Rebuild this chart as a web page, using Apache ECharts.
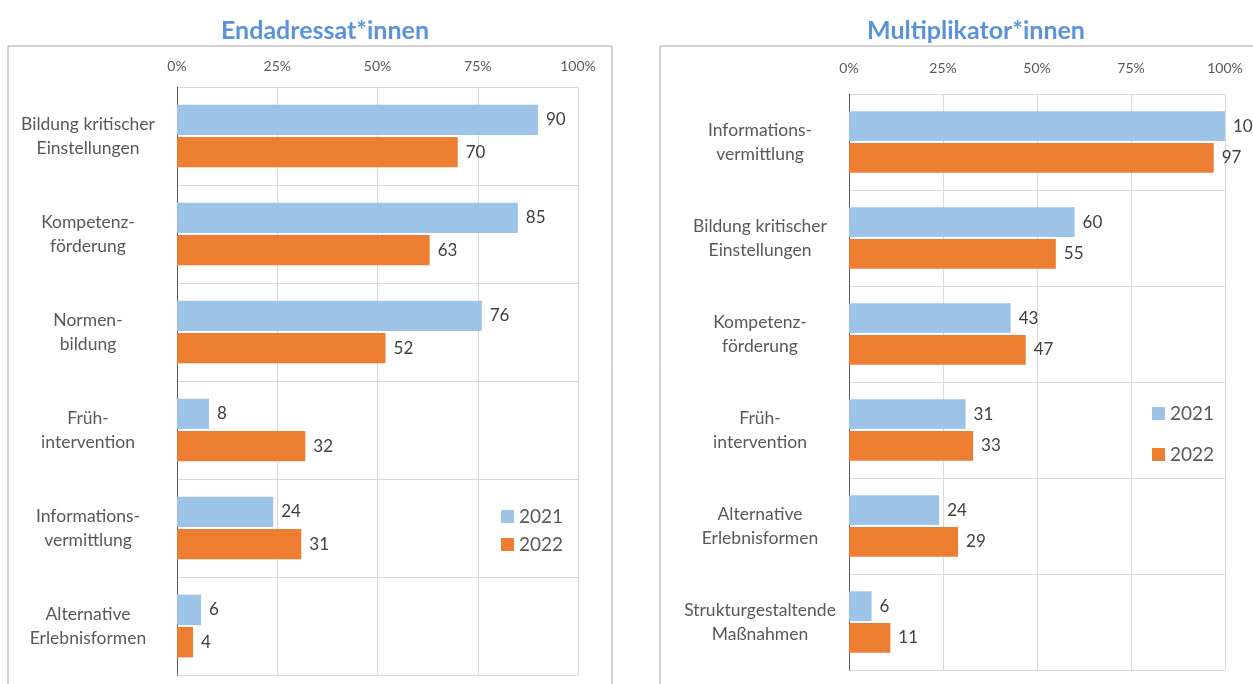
<!DOCTYPE html>
<html>
<head>
<meta charset="utf-8">
<script src="https://cdn.jsdelivr.net/npm/echarts@6/dist/echarts.min.js"></script>
<style>
  html, body { margin: 0; padding: 0; background: #fff; }
  #chart_main { width: 1253px; height: 684px; }
</style>
</head>
<body>
<div id="chart_main"></div>
<script>
// Endadressat*innen (links)
const leftCategories = ['Bildung kritischer\nEinstellungen', 'Kompetenz-\nförderung', 'Normen-\nbildung',
  'Früh-\nintervention', 'Informations-\nvermittlung', 'Alternative\nErlebnisformen'];
const left2021 = [90, 85, 76, 8, 24, 6];
const left2022 = [70, 63, 52, 32, 31, 4];

// Multiplikator*innen (rechts)
const rightCategories = ['Informations-\nvermittlung', 'Bildung kritischer\nEinstellungen', 'Kompetenz-\nförderung',
  'Früh-\nintervention', 'Alternative\nErlebnisformen', 'Strukturgestaltende\nMaßnahmen'];
const right2021 = [100, 60, 43, 31, 24, 6];
const right2022 = [97, 55, 47, 33, 29, 11];

const years = ['2021', '2022'];
const tickLabels = ['0%', '25%', '50%', '75%', '100%'];

const font = 'Lato, "Open Sans", sans-serif';
const colors = ['#9dc3e6', '#ed7d31'];
const gridColor = '#d9d9d9';

let myChart = echarts.init(document.getElementById('chart_main'));

function valueAxis(gridIndex, margin) {
  return {
    type: 'value',
    gridIndex: gridIndex,
    position: 'top',
    min: 0,
    max: 100,
    interval: 25,
    axisLine: { show: false },
    axisTick: { show: false },
    axisLabel: {
      color: '#595959',
      fontSize: 14,
      fontFamily: font,
      margin: margin,
      formatter: (v) => tickLabels[v / 25]
    },
    splitLine: { lineStyle: { color: gridColor, width: 1 } }
  };
}

function catAxis(gridIndex, cats) {
  return {
    type: 'category',
    gridIndex: gridIndex,
    inverse: true,
    data: cats,
    axisLine: { lineStyle: { color: '#595959', width: 1 } },
    axisTick: { show: false },
    axisLabel: {
      color: '#595959',
      fontSize: 17.5,
      fontFamily: font,
      align: 'center',
      lineHeight: 24,
      margin: 89
    },
    splitLine: { show: true, lineStyle: { color: gridColor, width: 1 } }
  };
}

let option = {
  color: colors,
  title: [
    {
      text: 'Endadressat*innen',
      left: 320,
      top: 13,
      textAlign: 'center',
      textStyle: { color: '#5b93d8', fontSize: 25, fontWeight: 'bold', fontFamily: font }
    },
    {
      text: 'Multiplikator*innen',
      left: 971,
      top: 13,
      textAlign: 'center',
      textStyle: { color: '#5b93d8', fontSize: 25, fontWeight: 'bold', fontFamily: font }
    }
  ],
  graphic: [
    {
      type: 'rect',
      shape: { x: 8, y: 46, width: 604, height: 700 },
      style: { fill: 'none', stroke: '#a6a6a6', lineWidth: 1 }
    },
    {
      type: 'rect',
      shape: { x: 660, y: 46, width: 700, height: 700 },
      style: { fill: 'none', stroke: '#a6a6a6', lineWidth: 1 }
    }
  ],
  legend: [
    {
      orient: 'vertical',
      left: 496,
      top: 502,
      itemWidth: 13,
      itemHeight: 13,
      itemGap: 9,
      icon: 'rect',
      textStyle: { color: '#595959', fontSize: 19, fontFamily: font },
      data: years
    },
    {
      orient: 'vertical',
      left: 1147,
      top: 399,
      itemWidth: 13,
      itemHeight: 13,
      itemGap: 22,
      icon: 'rect',
      textStyle: { color: '#595959', fontSize: 19, fontFamily: font },
      data: years
    }
  ],
  grid: [
    { left: 177, top: 87, width: 401, height: 588 },
    { left: 849, top: 94, width: 376, height: 576 }
  ],
  xAxis: [valueAxis(0, 14), valueAxis(1, 19)],
  yAxis: [catAxis(0, leftCategories), catAxis(1, rightCategories)],
  series: []
};

const seriesData = [
  [left2021, left2022],
  [right2021, right2022]
];

for (let g = 0; g < 2; g++) {
  for (let i = 0; i < years.length; i++) {
    option.series.push({
      name: years[i],
      type: 'bar',
      xAxisIndex: g,
      yAxisIndex: g,
      barCategoryGap: '36%',
      barGap: '6%',
      label: {
        show: true,
        position: 'right',
        distance: 8,
        color: '#404040',
        fontSize: 17,
        fontFamily: font
      },
      data: seriesData[g][i]
    });
  }
}

myChart.setOption(option, true);

window.addEventListener('resize', () => {
  myChart.resize();
});
</script>
</body>
</html>
